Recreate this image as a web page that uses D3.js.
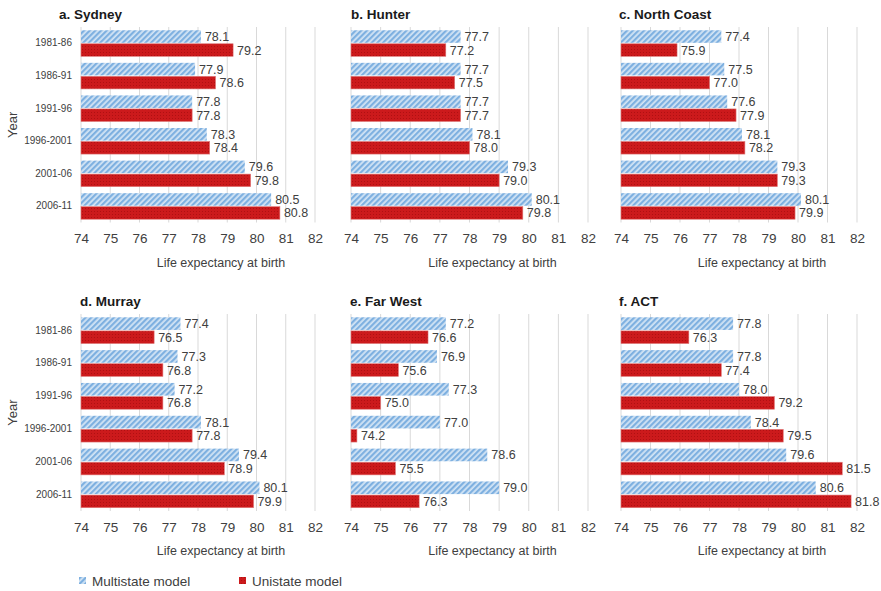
<!DOCTYPE html>
<html>
<head>
<meta charset="utf-8">
<script src="https://cdn.jsdelivr.net/npm/d3@7"></script>
<style>
  html, body { margin: 0; padding: 0; background: #fff; }
  svg { display: block; font-family: "Liberation Sans", Arial, sans-serif; }
</style>
</head>
<body>
<svg id="chart" width="881" height="591"></svg>
<script>
// Periods shown on every panel's category axis
const years = ["1981-86", "1986-91", "1991-96", "1996-2001", "2001-06", "2006-11"];
const xTicks = [74, 75, 76, 77, 78, 79, 80, 81, 82];
const seriesNames = ["Multistate model", "Unistate model"];

// Life expectancy at birth by region (multistate vs unistate model)
const sydneyMulti = [78.1, 77.9, 77.8, 78.3, 79.6, 80.5];
const sydneyUni   = [79.2, 78.6, 77.8, 78.4, 79.8, 80.8];
const hunterMulti = [77.7, 77.7, 77.7, 78.1, 79.3, 80.1];
const hunterUni   = [77.2, 77.5, 77.7, 78.0, 79.0, 79.8];
const northCoastMulti = [77.4, 77.5, 77.6, 78.1, 79.3, 80.1];
const northCoastUni   = [75.9, 77.0, 77.9, 78.2, 79.3, 79.9];
const murrayMulti = [77.4, 77.3, 77.2, 78.1, 79.4, 80.1];
const murrayUni   = [76.5, 76.8, 76.8, 77.8, 78.9, 79.9];
const farWestMulti = [77.2, 76.9, 77.3, 77.0, 78.6, 79.0];
const farWestUni   = [76.6, 75.6, 75.0, 74.2, 75.5, 76.3];
const actMulti = [77.8, 77.8, 78.0, 78.4, 79.6, 80.6];
const actUni   = [76.3, 77.4, 79.2, 79.5, 81.5, 81.8];

const panelTitles = ["a. Sydney", "b. Hunter", "c. North Coast", "d. Murray", "e. Far West", "f. ACT"];
const panelMulti = [sydneyMulti, hunterMulti, northCoastMulti, murrayMulti, farWestMulti, actMulti];
const panelUni = [sydneyUni, hunterUni, northCoastUni, murrayUni, farWestUni, actUni];

// Layout of the 3 x 2 grid
const colX = [[81, 315], [351, 588], [621, 857]];
const rowY = [[27, 222.5], [314, 511]];
const titleX = [59, 351, 619, 80, 350, 619];

const svg = d3.select("#chart");
const defs = svg.append("defs");

// Hatched fill for the multistate bars
const hatch = defs.append("pattern")
  .attr("id", "hatch").attr("patternUnits", "userSpaceOnUse")
  .attr("width", 4).attr("height", 4)
  .attr("patternTransform", "rotate(45)");
hatch.append("rect").attr("width", 4).attr("height", 4).attr("fill", "#d2e4f5");
hatch.append("rect").attr("width", 2.2).attr("height", 4).attr("fill", "#7eb0e0");

// Fine dotted fill for the unistate bars
const dots = defs.append("pattern")
  .attr("id", "dots").attr("patternUnits", "userSpaceOnUse")
  .attr("width", 3).attr("height", 3);
dots.append("rect").attr("width", 3).attr("height", 3).attr("fill", "#cc1a1c");
dots.append("rect").attr("x", 1).attr("y", 1).attr("width", 1).attr("height", 1).attr("fill", "#b01012");

const textColor = "#404040";

panelTitles.forEach((title, i) => {
  const col = i % 3, row = Math.floor(i / 3);
  const [x0, x1] = colX[col];
  const [y0, y1] = rowY[row];
  const g = svg.append("g");

  const x = d3.scaleLinear().domain([74, 82]).range([x0, x1]);
  const y = d3.scaleBand().domain(years).range([y0, y1]).paddingInner(0.2).paddingOuter(0.1);
  const ySub = d3.scaleBand().domain(seriesNames).range([0, y.bandwidth()]).paddingInner(0.07);

  // Vertical gridlines
  g.append("g").selectAll("line").data(xTicks).join("line")
    .attr("x1", d => x(d)).attr("x2", d => x(d))
    .attr("y1", y0).attr("y2", y1)
    .attr("stroke", "#d9d9d9").attr("stroke-width", 1);

  // Bottom axis tick labels
  const xAxis = d3.axisBottom(x).tickValues(xTicks).tickSize(0).tickPadding(0).tickFormat(d3.format("d"));
  const ax = g.append("g").attr("transform", `translate(0,${y1 + 11})`).call(xAxis);
  ax.select(".domain").remove();
  ax.selectAll("text").attr("fill", textColor).attr("font-size", "13.5px")
    .attr("font-family", "Liberation Sans, Arial, sans-serif");

  // Axis title
  g.append("text")
    .attr("x", (x0 + x1) / 2 + 23).attr("y", y1 + 44)
    .attr("text-anchor", "middle").attr("fill", textColor).attr("font-size", "12.5px")
    .text("Life expectancy at birth");

  // Panel title
  g.append("text")
    .attr("x", titleX[i]).attr("y", y0 - 8)
    .attr("fill", "#1a1a1a").attr("font-size", "13.5px").attr("font-weight", "bold")
    .text(title);

  // Category labels only on the left column
  if (col === 0) {
    const yAxis = d3.axisLeft(y).tickSize(0).tickPadding(0);
    const ay = g.append("g").attr("transform", `translate(${x0 - 9},0)`).call(yAxis);
    ay.select(".domain").remove();
    ay.selectAll("text").attr("fill", textColor).attr("font-size", "10px")
      .attr("font-family", "Liberation Sans, Arial, sans-serif");
    g.append("text")
      .attr("transform", `translate(17,${(y0 + y1) / 2}) rotate(-90)`)
      .attr("text-anchor", "middle").attr("fill", textColor).attr("font-size", "13px")
      .text("Year");
  }

  const rows = years.map((yr, k) => ({ yr, multi: panelMulti[i][k], uni: panelUni[i][k] }));
  const series = [
    { key: seriesNames[0], field: "multi", fill: "url(#hatch)", stroke: "none" },
    { key: seriesNames[1], field: "uni", fill: "url(#dots)", stroke: "#e07a7a" }
  ];

  series.forEach(s => {
    g.append("g").selectAll("rect").data(rows).join("rect")
      .attr("x", x(74))
      .attr("y", d => y(d.yr) + ySub(s.key))
      .attr("width", d => x(d[s.field]) - x(74))
      .attr("height", ySub.bandwidth())
      .attr("fill", s.fill)
      .attr("stroke", s.stroke).attr("stroke-width", 0.6);

    g.append("g").selectAll("text").data(rows).join("text")
      .attr("x", d => x(d[s.field]) + 4)
      .attr("y", d => y(d.yr) + ySub(s.key) + ySub.bandwidth() / 2)
      .attr("dy", "0.36em")
      .attr("fill", textColor).attr("font-size", "12.5px")
      .text(d => d[s.field].toFixed(1));
  });
});

// Legend
const legend = svg.append("g");
const legendItems = [
  { name: seriesNames[0], fill: "url(#hatch)", x: 79, tx: 92 },
  { name: seriesNames[1], fill: "url(#dots)", x: 239, tx: 252 }
];
legendItems.forEach(it => {
  legend.append("rect").attr("x", it.x).attr("y", 577).attr("width", 7).attr("height", 7).attr("fill", it.fill);
  legend.append("text").attr("x", it.tx).attr("y", 585.5)
    .attr("fill", textColor).attr("font-size", "13.5px").text(it.name);
});
</script>
</body>
</html>
